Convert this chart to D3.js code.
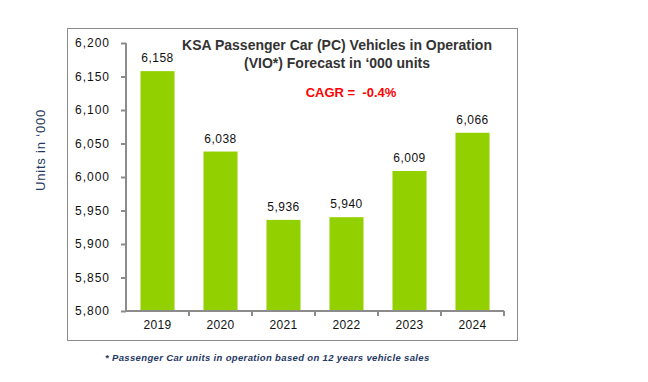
<!DOCTYPE html>
<html>
<head>
<meta charset="utf-8">
<script src="https://cdn.jsdelivr.net/npm/d3@7"></script>
<style>
  body { margin: 0; background: #fff; }
  svg { display: block; font-family: Arial, "Liberation Sans", sans-serif; }
</style>
</head>
<body>
<script>
const WIDTH = 648;
const HEIGHT = 382;

const years = ["2019", "2020", "2021", "2022", "2023", "2024"];
const units = [6158, 6038, 5936, 5940, 6009, 6066];
const yTicks = [5800, 5850, 5900, 5950, 6000, 6050, 6100, 6150, 6200];

const titleLines = ["KSA Passenger Car (PC) Vehicles in Operation", "(VIO*) Forecast in \u2018000 units"];
const cagrText = "CAGR =  -0.4%";
const yLabel = "Units in \u2018000";
const footnote = "* Passenger Car units in operation based on 12 years vehicle sales";

const plotLeft = 126, plotRight = 504, plotTop = 43, plotBottom = 311;
const axisColor = "#8c8c8c";

const fmt = d3.format(",");

const svg = d3.select("body").append("svg")
    .attr("width", WIDTH)
    .attr("height", HEIGHT);

// outer frame
svg.append("rect")
    .attr("x", 67.5).attr("y", 28.5)
    .attr("width", 450).attr("height", 312)
    .attr("fill", "none")
    .attr("stroke", axisColor)
    .attr("stroke-width", 1);

const xScale = d3.scaleBand()
    .domain(years)
    .range([plotLeft, plotRight])
    .paddingInner(0.46)
    .paddingOuter(0.23);

const yScale = d3.scaleLinear()
    .domain([5800, 6200])
    .range([plotBottom, plotTop]);

// bars
svg.selectAll(".bar")
    .data(units)
    .enter().append("rect")
    .attr("class", "bar")
    .attr("x", (d, i) => xScale(years[i]))
    .attr("y", d => yScale(d))
    .attr("width", xScale.bandwidth())
    .attr("height", d => plotBottom - yScale(d))
    .attr("fill", "#92d000");

// value labels
svg.selectAll(".val")
    .data(units)
    .enter().append("text")
    .attr("class", "val")
    .attr("x", (d, i) => xScale(years[i]) + xScale.bandwidth() / 2)
    .attr("y", d => yScale(d) - 9)
    .attr("text-anchor", "middle")
    .attr("font-size", 12)
    .attr("letter-spacing", 0.5)
    .attr("fill", "#111")
    .text(d => fmt(d));

// y axis
const yAxis = d3.axisLeft(yScale)
    .tickValues(yTicks)
    .tickSize(5)
    .tickPadding(11)
    .tickFormat(fmt);

const gy = svg.append("g")
    .attr("transform", "translate(" + plotLeft + ",0)")
    .call(yAxis);
gy.select(".domain").attr("stroke", axisColor).attr("stroke-width", 2).attr("d", "M0," + plotTop + "V" + plotBottom);
gy.selectAll(".tick line").attr("stroke", axisColor).attr("stroke-width", 2);
gy.selectAll(".tick text")
    .attr("font-size", 12)
    .attr("letter-spacing", 1)
    .attr("font-family", "Arial, 'Liberation Sans', sans-serif")
    .attr("fill", "#111");

// x axis with ticks on category boundaries
const xAxis = d3.axisBottom(xScale).tickSize(0).tickPadding(9);
const gx = svg.append("g")
    .attr("transform", "translate(0," + plotBottom + ")")
    .call(xAxis);
gx.select(".domain").attr("stroke", axisColor).attr("stroke-width", 2).attr("d", "M" + plotLeft + ",0H" + plotRight);
gx.selectAll(".tick text")
    .attr("font-size", 12)
    .attr("letter-spacing", 0.3)
    .attr("font-family", "Arial, 'Liberation Sans', sans-serif")
    .attr("fill", "#111");

const step = xScale.step();
const boundaries = years.map((y, i) => plotLeft + step * (i + 1));
gx.selectAll(".bnd")
    .data(boundaries)
    .enter().append("line")
    .attr("class", "bnd")
    .attr("x1", d => d).attr("x2", d => d)
    .attr("y1", 0).attr("y2", 5)
    .attr("stroke", axisColor)
    .attr("stroke-width", 2);

// title
svg.append("text")
    .attr("x", 337)
    .attr("y", 50)
    .attr("text-anchor", "middle")
    .attr("font-size", 14)
    .attr("font-weight", "bold")
    .attr("fill", "#333")
    .selectAll("tspan")
    .data(titleLines)
    .enter().append("tspan")
    .attr("x", 337)
    .attr("dy", (d, i) => i === 0 ? 0 : 18)
    .text(d => d);

svg.append("text")
    .attr("x", 351)
    .attr("y", 97)
    .attr("text-anchor", "middle")
    .attr("font-size", 13)
    .attr("font-weight", "bold")
    .attr("fill", "#ff0000")
    .attr("xml:space", "preserve")
    .text(cagrText);

// y axis label
svg.append("text")
    .attr("transform", "translate(45,150) rotate(-90)")
    .attr("text-anchor", "middle")
    .attr("font-size", 13)
    .attr("letter-spacing", 0.8)
    .attr("fill", "#1f3864")
    .text(yLabel);

// footnote
svg.append("text")
    .attr("x", 105)
    .attr("y", 361)
    .attr("font-size", 9.5)
    .attr("letter-spacing", 0.35)
    .attr("font-style", "italic")
    .attr("font-weight", "bold")
    .attr("fill", "#1f3864")
    .text(footnote);
</script>
</body>
</html>
